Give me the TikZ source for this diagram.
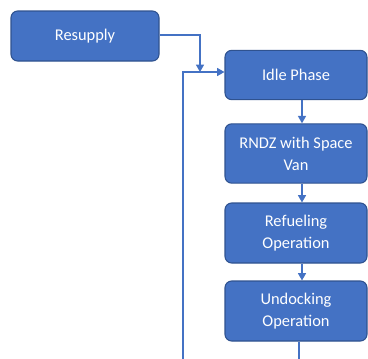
\documentclass[tikz,border=0pt]{standalone}
\usepackage{fontspec}
\setmainfont{Carlito}
\usetikzlibrary{arrows.meta}
\definecolor{boxblue}{HTML}{4472C4}
\definecolor{boxedge}{HTML}{2F528F}

\begin{document}
\begin{tikzpicture}[x=0.75pt, y=-0.75pt,
	phase/.style={draw=boxedge, fill=boxblue, rounded corners=5pt, line width=0.8pt,
		text=white, align=center, minimum width=106.5pt, font=\fontsize{12.3}{16.5}\selectfont},
	flow/.style={draw=boxblue, line width=1pt},
	flowarrow/.style={flow, -{Triangle[length=5.5pt, width=6pt]}}]
	\useasboundingbox (0,0) rectangle (368,358);
	\node[phase, minimum width=111pt, minimum height=37.5pt] (resupply) at (85,36) {Resupply};
	\node[phase, minimum height=37pt] (idle) at (296,75) {Idle Phase};
	\node[phase, minimum height=44.5pt] (rndz) at (296,153.5) {RNDZ with Space\\Van};
	\node[phase, minimum height=45pt] (refuel) at (296,233) {Refueling\\Operation};
	\node[phase, minimum height=45pt] (undock) at (296,311) {Undocking\\Operation};
	% joins into the idle phase
	\coordinate (merge) at (200,72);
	\coordinate (loopend) at (183,360);
	\coordinate (undockend) at (299,360);
	\draw[flowarrow] (resupply.east |- 0,35) -| (merge);
	\draw[flowarrow] (loopend) |- (idle.west |- merge);
	\draw[flowarrow] ([xshift=4.5pt]idle.south) -- ([xshift=4.5pt]rndz.north);
	\draw[flowarrow] ([xshift=4.5pt]rndz.south) -- ([xshift=4.5pt]refuel.north);
	\draw[flowarrow] ([xshift=4.5pt]refuel.south) -- ([xshift=4.5pt]undock.north);
	\draw[flow] ([xshift=2.25pt]undock.south) -- (undockend);
\end{tikzpicture}
\end{document}
